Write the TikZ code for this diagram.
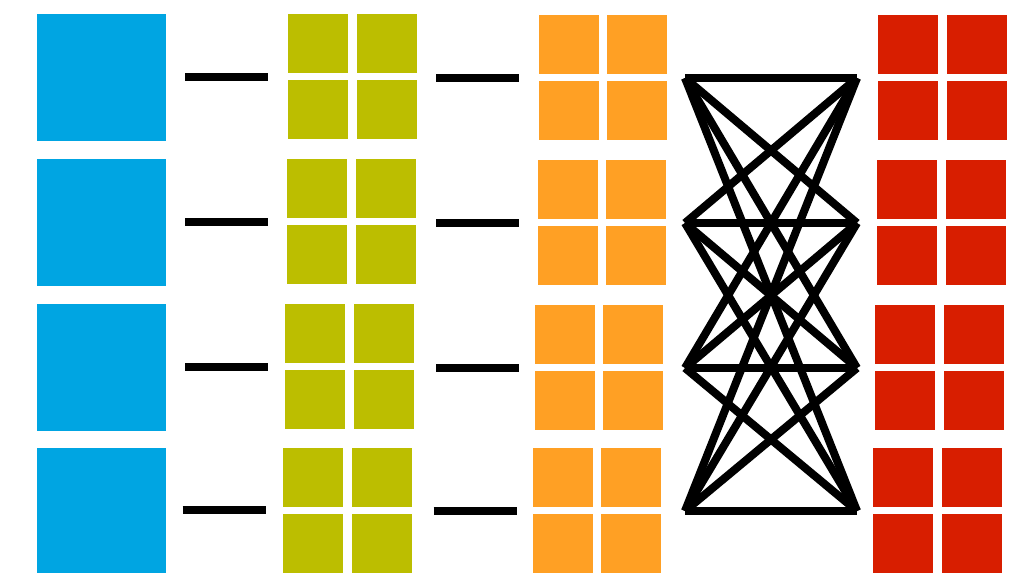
\documentclass[tikz,border=0pt]{standalone}
\usepackage{tikz}
\usetikzlibrary{positioning}

\definecolor{tileblue}{RGB}{0,165,226}
\definecolor{tilegreen}{RGB}{188,190,0}
\definecolor{tileorange}{RGB}{255,160,36}
\definecolor{tilered}{RGB}{216,30,0}

\begin{document}
\begin{tikzpicture}[
			x=0.75pt,y=-0.75pt,
			tile/.style={
				inner sep=0pt,
				outer sep=0pt,
				anchor=north west,
				minimum width=45pt,
				minimum height=44.25pt
			},
			bigtile/.style={
				tile,
				fill=tileblue,
				minimum width=96.75pt,
				minimum height=95.25pt
			},
			link/.style={line width=6pt}
			]
			
			\useasboundingbox (0,0) rectangle (1011,572);
			
			% one row: blue square, three 2x2 groups, two dashes
			\foreach \r/\yb/\xg/\xo/\yo/\xr/\yd/\dx in {
				1/14/288/539/15/878/77/0,
				2/159/287/538/160/877/222/0,
				3/304/285/535/305/875/367/0,
				4/448/283/533/448/873/510/-2.5}{
				
				\node[bigtile] (blue\r) at (37,\yb) {};
				
				\node[tile,fill=tilegreen] (green\r nw) at (\xg,\yb) {};
				\node[tile,fill=tilegreen,right=6.4pt of green\r nw] (green\r ne) {};
				\node[tile,fill=tilegreen,below=5.2pt of green\r nw] (green\r sw) {};
				\node[tile,fill=tilegreen,below=5.2pt of green\r ne] (green\r se) {};
				
				\node[tile,fill=tileorange] (orange\r nw) at (\xo,\yo) {};
				\node[tile,fill=tileorange,right=6.2pt of orange\r nw] (orange\r ne) {};
				\node[tile,fill=tileorange,below=5.2pt of orange\r nw] (orange\r sw) {};
				\node[tile,fill=tileorange,below=5.2pt of orange\r ne] (orange\r se) {};
				
				\node[tile,fill=tilered] (red\r nw) at (\xr,\yo) {};
				\node[tile,fill=tilered,right=6.6pt of red\r nw] (red\r ne) {};
				\node[tile,fill=tilered,below=5.2pt of red\r nw] (red\r sw) {};
				\node[tile,fill=tilered,below=5.2pt of red\r ne] (red\r se) {};
				
				\coordinate (bg\r w) at (185+\dx,\yd);
				\coordinate (bg\r e) at (268+\dx,\yd);
				\coordinate (go\r w) at (436+\dx,\yd+1);
				\coordinate (go\r e) at (519+\dx,\yd+1);
				\draw[link] (bg\r w) -- (bg\r e);
				\draw[link] (go\r w) -- (go\r e);
				
				\coordinate (hubL\r) at (685,\yd+1);
				\coordinate (hubR\r) at (857,\yd+1);
			}
			
			% every left hub to every right hub
			\foreach \i in {1,...,4}{
				\foreach \j in {1,...,4}{
					\draw[link] (hubL\i) -- (hubR\j);
				}
			}
			
		\end{tikzpicture}
\end{document}
